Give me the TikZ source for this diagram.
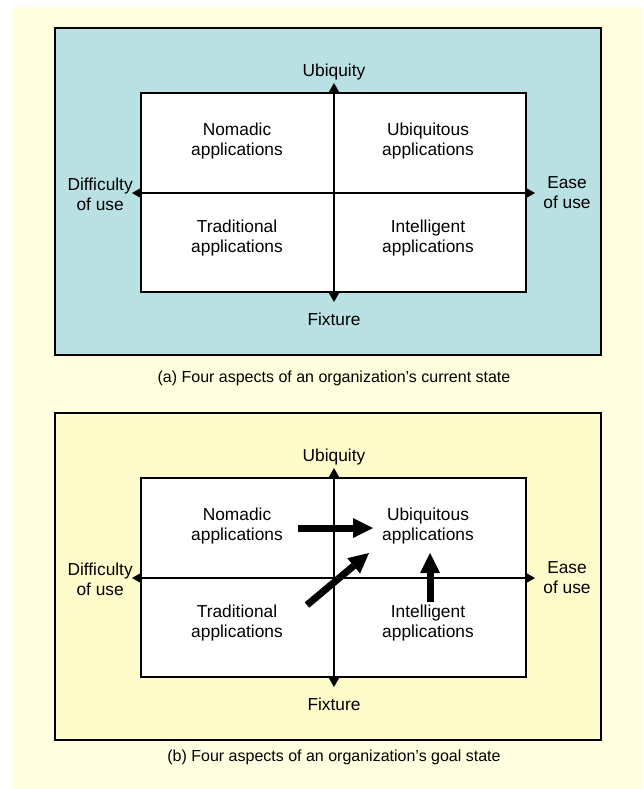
\documentclass[tikz,border=0pt]{standalone}
\usepackage{fontspec}
\setmainfont{Liberation Sans}
\usetikzlibrary{arrows.meta}
\definecolor{pagebg}{RGB}{255,255,224}
\definecolor{nowbg}{RGB}{185,224,226}
\definecolor{goalbg}{RGB}{255,252,204}

\begin{document}
\begin{tikzpicture}[x=0.75pt,y=-0.75pt,
    txt/.style={font=\fontsize{13}{15}\selectfont,align=center,inner sep=0pt},
    captxt/.style={font=\fontsize{12}{14}\selectfont,inner sep=0pt},
    axis/.style={line width=1.4pt,
      {Triangle[length=7pt,width=8pt,line width=0pt]}-{Triangle[length=7pt,width=8pt,line width=0pt]}},
    goal/.style={line width=5.25pt,-{Triangle[length=15pt,width=15pt,line width=0pt]}}]
  \useasboundingbox (0,0) rectangle (643,789);
  \fill[pagebg] (12,7) rectangle (643,789);
  % the two panels: current state, goal state
  \foreach \off/\col/\id/\cap/\capy in {0/nowbg/a/current/378,385/goalbg/b/goal/372}{
    \begin{scope}[shift={(0,\off)}]
      \draw[line width=1.1pt,fill=\col] (55,28) rectangle (601,355);
      \draw[line width=1pt,fill=white] (141,93) rectangle (526,292);
      \node[txt] (nom\id) at (237,141) {Nomadic\\applications};
      \node[txt] (ubi\id) at (428,141) {Ubiquitous\\applications};
      \node[txt] (tra\id) at (237,238) {Traditional\\applications};
      \node[txt] (int\id) at (428,238) {Intelligent\\applications};
      \coordinate (top\id) at (334,83);
      \coordinate (bot\id) at (334,302);
      \coordinate (lft\id) at (132,193);
      \coordinate (rgt\id) at (535,193);
      \node[txt] (ubq\id) at (334,72) {Ubiquity};
      \node[txt] (fix\id) at (334,319) {Fixture};
      \node[txt,anchor=east] (dif\id) at (133,194) {Difficulty\\of use};
      \node[txt] (eas\id) at (567,193) {Ease\\of use};
      \draw[axis] (bot\id) -- (top\id);
      \draw[axis] (lft\id) -- (rgt\id);
      \node[captxt] (cap\id) at (334,\capy) {(\id) Four aspects of an organization’s \cap\ state};
    \end{scope}
  }
  % moves towards ubiquity
  \coordinate (h0) at (298,528);
  \coordinate (h1) at (373,528);
  \coordinate (d0) at (307,605);
  \coordinate (d1) at (369,553);
  \coordinate (v0) at (430,602);
  \coordinate (v1) at (430,553);
  \draw[goal] (h0) -- (h1);
  \draw[goal] (d0) -- (d1);
  \draw[goal] (v0) -- (v1);
\end{tikzpicture}
\end{document}
